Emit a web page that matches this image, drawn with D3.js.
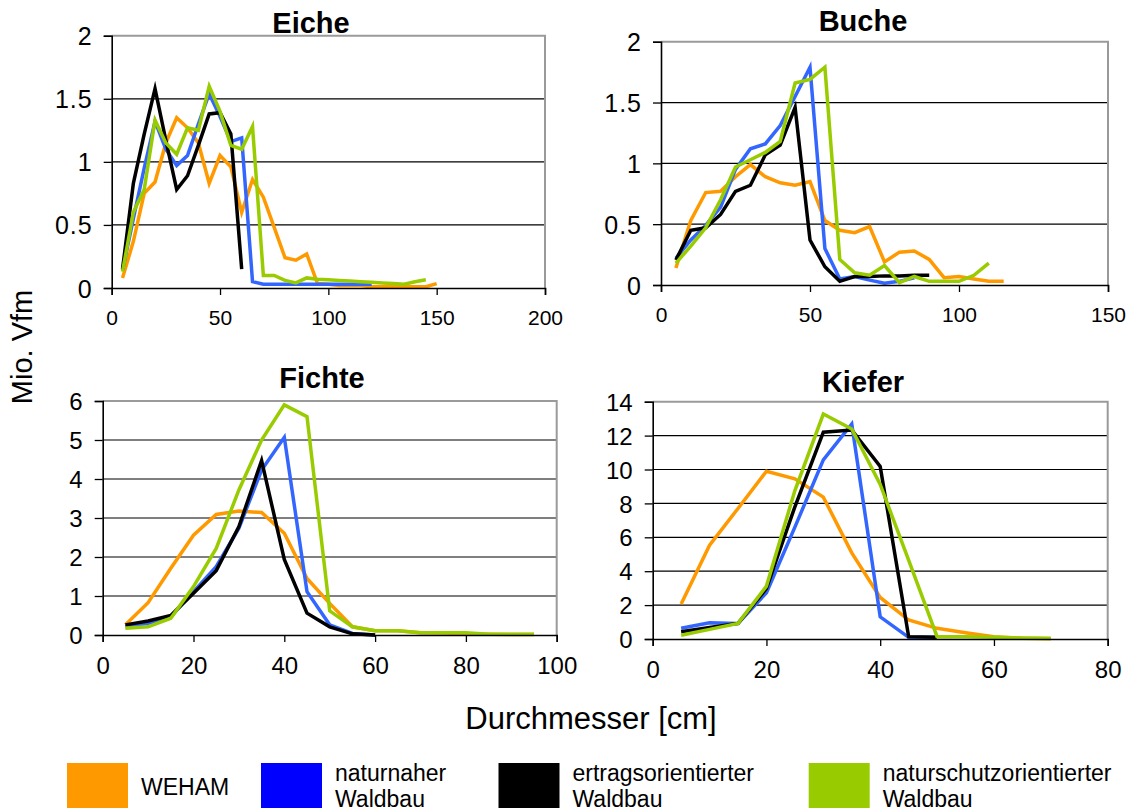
<!DOCTYPE html>
<html>
<head>
<meta charset="utf-8">
<script src="https://cdn.jsdelivr.net/npm/d3@7"></script>
<style>
  body { margin: 0; background: #fff; }
  text { font-family: "Liberation Sans", Arial, sans-serif; fill: #000; }
</style>
</head>
<body>
<svg id="chart"></svg>
<script>
// ---- data (Mio. Vfm by Durchmesser class) ----
var seriesNames = ["WEHAM", "naturnaher Waldbau", "ertragsorientierter Waldbau", "naturschutzorientierter Waldbau"];
var legendLines = [["WEHAM"], ["naturnaher", "Waldbau"], ["ertragsorientierter", "Waldbau"], ["naturschutzorientierter", "Waldbau"]];

var eicheD = [5,10,15,20,25,30,35,40,45,50,55,60,65,70,75,80,85,90,95,100,105,110,115,120,125,130,135,140,145,150];
var eicheWeham = [0.08,0.37,0.75,0.84,1.15,1.35,1.27,1.15,0.83,1.05,0.96,0.6,0.86,0.72,0.48,0.24,0.22,0.27,0.035,0.03,0.02,0.02,0.02,0.01,0.01,0.01,0.01,0.01,0.01,0.035];
var eicheNaturnah = [0.14,0.55,0.95,1.32,1.1,0.97,1.05,1.3,1.54,1.36,1.16,1.19,0.05,0.03,0.03,0.03,0.03,0.03,0.03,0.03,0.03,0.03,0.03,0.03];
var eicheErtrag = [0.15,0.83,1.22,1.58,1.17,0.78,0.89,1.13,1.38,1.39,1.22,0.15];
var eicheNaturschutz = [0.13,0.6,0.78,1.33,1.15,1.06,1.27,1.25,1.6,1.4,1.13,1.1,1.28,0.1,0.1,0.06,0.04,0.08,0.07,0.065,0.06,0.055,0.05,0.045,0.04,0.035,0.03,0.05,0.066];

var bucheD = [5,10,15,20,25,30,35,40,45,50,55,60,65,70,75,80,85,90,95,100,105,110,115];
var bucheWeham = [0.14,0.53,0.76,0.77,0.89,0.99,0.89,0.84,0.82,0.85,0.53,0.45,0.43,0.48,0.19,0.27,0.28,0.21,0.06,0.07,0.05,0.03,0.03];
var bucheNaturnah = [0.22,0.37,0.49,0.64,0.95,1.12,1.16,1.31,1.55,1.79,0.3,0.05,0.07,0.04,0.015,0.03,0.06];
var bucheErtrag = [0.205,0.45,0.47,0.58,0.77,0.82,1.07,1.15,1.46,0.37,0.15,0.03,0.07,0.07,0.075,0.075,0.08,0.08];
var bucheNaturschutz = [0.18,0.32,0.47,0.7,0.97,1.03,1.09,1.18,1.66,1.69,1.79,0.21,0.1,0.08,0.16,0.02,0.07,0.03,0.03,0.03,0.08,0.18];

var fichteD = [5,10,15,20,25,30,35,40,45,50,55,60,65,70,75,80,85,90,95];
var fichteWeham = [0.26,0.83,1.71,2.56,3.09,3.18,3.14,2.61,1.45,0.81,0.21,0.11,0.11,0.06,0.05,0.03,0.02,0.01,0.01];
var fichteNaturnah = [0.21,0.3,0.47,1.11,1.75,2.74,4.23,5.07,1.11,0.26,0.04,0];
var fichteErtrag = [0.26,0.36,0.5,1.07,1.65,2.78,4.47,1.94,0.56,0.21,0.03,0];
var fichteNaturschutz = [0.17,0.21,0.43,1.24,2.22,3.72,5.0,5.9,5.6,0.62,0.21,0.11,0.11,0.06,0.06,0.06,0.02,0.02,0.02];

var kieferD = [5,10,15,20,25,30,35,40,45,50,55,60,65,70];
var kieferWeham = [2.06,5.53,7.7,9.9,9.45,8.37,5.08,2.45,1.12,0.63,0.37,0.14,0.04,0.02];
var kieferNaturnah = [0.63,0.96,0.92,2.73,6.6,10.57,12.69,1.31,0.1,0.1];
var kieferErtrag = [0.43,0.68,0.92,2.98,7.8,12.2,12.33,10.18,0.14,0.1];
var kieferNaturschutz = [0.22,0.57,0.92,3.12,8.76,13.27,12.39,9.12,4.65,0.14,0.14,0.1,0.06,0.04];

var eicheXTicks = [0,50,100,150,200], eicheYTicks = [0,0.5,1,1.5,2];
var bucheXTicks = [0,50,100,150], bucheYTicks = [0,0.5,1,1.5,2];
var fichteXTicks = [0,20,40,60,80,100], fichteYTicks = [0,1,2,3,4,5,6];
var kieferXTicks = [0,20,40,60,80], kieferYTicks = [0,2,4,6,8,10,12,14];

var lineColors = ["#ff9900", "#3366ff", "#000000", "#99cc00"];
var legendColors = ["#ff9900", "#0000ff", "#000000", "#99cc00"];

// ---- layout ----
var W = 1132, H = 812;
var svg = d3.select("#chart").attr("width", W).attr("height", H);
svg.append("rect").attr("width", W).attr("height", H).attr("fill", "#fff");

// fx / fy: x / y tick label size, xp: x label padding, ls: letter spacing of y labels
var panels = [
  {title: "Eiche", d: eicheD, series: [eicheWeham, eicheNaturnah, eicheErtrag, eicheNaturschutz],
   xt: eicheXTicks, yt: eicheYTicks, box: [111.7, 545, 35.7, 288], fx: 21, fy: 25, ls: 1, xp: 15.5, tx: 311, ty: 33},
  {title: "Buche", d: bucheD, series: [bucheWeham, bucheNaturnah, bucheErtrag, bucheNaturschutz],
   xt: bucheXTicks, yt: bucheYTicks, box: [661, 1108, 41.7, 285], fx: 21, fy: 25, ls: 1, xp: 15.5, tx: 863, ty: 31},
  {title: "Fichte", d: fichteD, series: [fichteWeham, fichteNaturnah, fichteErtrag, fichteNaturschutz],
   xt: fichteXTicks, yt: fichteYTicks, box: [102.7, 556.7, 401, 635], fx: 24, fy: 24, ls: 0, xp: 15, tx: 322, ty: 388},
  {title: "Kiefer", d: kieferD, series: [kieferWeham, kieferNaturnah, kieferErtrag, kieferNaturschutz],
   xt: kieferXTicks, yt: kieferYTicks, box: [652.7, 1107.7, 401.7, 639], fx: 24, fy: 24, ls: 0, xp: 15, tx: 863, ty: 392}
];

panels.forEach(function (p) {
  var x = d3.scaleLinear().domain([0, d3.max(p.xt)]).range([p.box[0], p.box[1]]);
  var y = d3.scaleLinear().domain([0, d3.max(p.yt)]).range([p.box[3], p.box[2]]);
  var g = svg.append("g");

  // grid lines
  g.selectAll(".grid").data(p.yt.slice(1, -1)).enter().append("line")
    .attr("x1", p.box[0]).attr("x2", p.box[1])
    .attr("y1", function (d) { return y(d); }).attr("y2", function (d) { return y(d); })
    .attr("stroke", "#000").attr("stroke-width", 1.2);

  // grey frame top / right
  g.append("path")
    .attr("d", "M" + p.box[0] + "," + p.box[2] + "H" + p.box[1] + "V" + p.box[3])
    .attr("fill", "none").attr("stroke", "#9a9a9a").attr("stroke-width", 2);

  // series lines
  var line = d3.line()
    .x(function (v, i) { return x(p.d[i]); })
    .y(function (v) { return y(v); });
  p.series.forEach(function (s, k) {
    g.append("path").datum(s)
      .attr("d", line)
      .attr("fill", "none")
      .attr("stroke", lineColors[k])
      .attr("stroke-width", 3.5)
      .attr("stroke-linejoin", "miter")
      .attr("stroke-miterlimit", 10);
  });

  // axes
  var xAxis = d3.axisBottom(x).tickValues(p.xt).tickSize(7).tickPadding(p.xp)
    .tickFormat(d3.format("~g"));
  var yAxis = d3.axisLeft(y).tickValues(p.yt).tickSize(8).tickPadding(12 - p.ls)
    .tickFormat(d3.format("~g"));
  var gx = g.append("g").attr("transform", "translate(0," + p.box[3] + ")").call(xAxis);
  var gy = g.append("g").attr("transform", "translate(" + p.box[0] + ",0)").call(yAxis);
  [gx, gy].forEach(function (a) {
    a.select(".domain").attr("stroke", "#000").attr("stroke-width", 1.6);
    a.selectAll(".tick line").attr("stroke", "#000").attr("stroke-width", 1.3);
    a.selectAll("text").attr("fill", "#000")
      .style("font-family", "'Liberation Sans', Arial, sans-serif");
  });
  gx.selectAll("text").attr("font-size", p.fx);
  gy.selectAll("text").attr("font-size", p.fy).attr("letter-spacing", p.ls).attr("dy", "0.36em");

  // title
  g.append("text").attr("x", p.tx).attr("y", p.ty)
    .attr("text-anchor", "middle").attr("font-size", 29).attr("font-weight", "bold")
    .text(p.title);
});

// axis titles
svg.append("text")
  .attr("transform", "translate(32,347)rotate(-90)")
  .attr("text-anchor", "middle").attr("font-size", 29)
  .text("Mio. Vfm");
svg.append("text")
  .attr("x", 591).attr("y", 729)
  .attr("text-anchor", "middle").attr("font-size", 31)
  .text("Durchmesser [cm]");

// legend
var legX = [67, 261, 498.5, 808.7];
var lg = svg.append("g");
legendLines.forEach(function (lines, i) {
  lg.append("rect").attr("x", legX[i]).attr("y", 763).attr("width", 61).attr("height", 45)
    .attr("fill", legendColors[i]);
  var t = lg.append("text").attr("x", legX[i] + 74).attr("font-size", 23);
  if (lines.length === 1) {
    t.attr("y", 795).text(lines[0]);
  } else {
    t.attr("y", 781);
    lines.forEach(function (l, j) {
      t.append("tspan").attr("x", legX[i] + 74).attr("dy", j === 0 ? 0 : 26).text(l);
    });
  }
});
</script>
</body>
</html>
